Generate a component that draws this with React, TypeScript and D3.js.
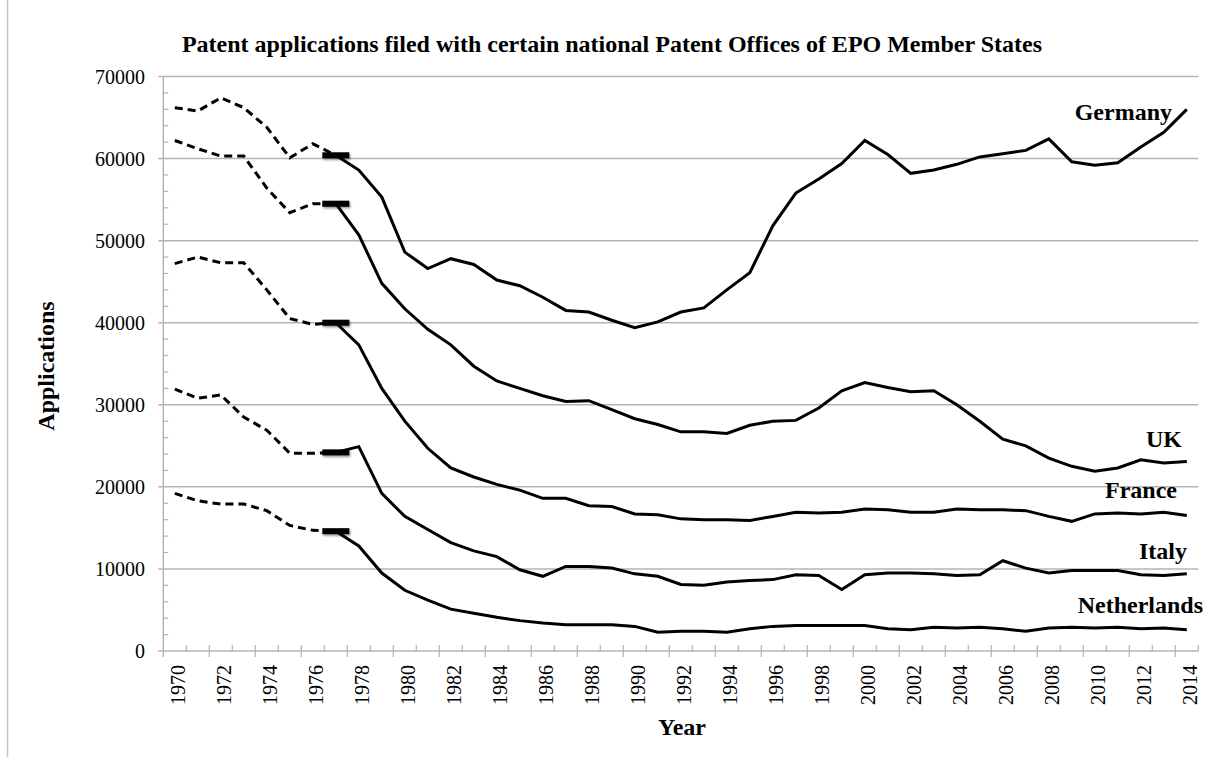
import React, { useRef, useEffect } from 'react';
import * as d3 from 'd3';

const years = d3.range(1970, 2015);

const germany = [66200, 65800, 67400, 66200, 63800, 60100, 61800, 60400, 58600, 55300, 48600, 46600,
  47800, 47100, 45200, 44500, 43100, 41500, 41300, 40300, 39400, 40100, 41300, 41800, 44000, 46100,
  51800, 55800, 57500, 59400, 62200, 60500, 58200, 58600, 59300, 60200, 60600, 61000, 62400, 59600,
  59200, 59500, 61400, 63200, 66000];

const uk = [62200, 61200, 60300, 60300, 56400, 53400, 54500, 54500, 50700, 44800, 41700, 39200,
  37300, 34700, 32900, 32000, 31100, 30400, 30500, 29400, 28300, 27600, 26700, 26700, 26500, 27500,
  28000, 28100, 29600, 31700, 32700, 32100, 31600, 31700, 30000, 28000, 25800, 25000, 23500, 22500,
  21900, 22300, 23300, 22900, 23100];

const france = [47200, 48000, 47300, 47300, 44000, 40500, 39800, 40000, 37300, 32000, 28000, 24700,
  22300, 21200, 20300, 19600, 18600, 18600, 17700, 17600, 16700, 16600, 16100, 16000, 16000, 15900,
  16400, 16900, 16800, 16900, 17300, 17200, 16900, 16900, 17300, 17200, 17200, 17100, 16400, 15800,
  16700, 16800, 16700, 16900, 16500];

const italy = [31900, 30800, 31200, 28500, 26900, 24100, 24100, 24200, 24900, 19200, 16400, 14800,
  13200, 12200, 11500, 9900, 9100, 10300, 10300, 10100, 9400, 9100, 8100, 8000, 8400, 8600,
  8700, 9300, 9200, 7500, 9300, 9500, 9500, 9400, 9200, 9300, 11000, 10100, 9500, 9800,
  9800, 9800, 9300, 9200, 9400];

const netherlands = [19200, 18300, 17900, 17900, 17100, 15300, 14700, 14600, 12800, 9500, 7400, 6200,
  5100, 4600, 4100, 3700, 3400, 3200, 3200, 3200, 3000, 2300, 2400, 2400, 2300, 2700,
  3000, 3100, 3100, 3100, 3100, 2700, 2600, 2900, 2800, 2900, 2700, 2400, 2800, 2900,
  2800, 2900, 2700, 2800, 2600];

const seriesNames = ['Germany', 'UK', 'France', 'Italy', 'Netherlands'];
const seriesValues = [germany, uk, france, italy, netherlands];

// years before this one are drawn dashed
const breakYear = 1977;

const yTicks = d3.range(0, 70001, 10000);
const yMinorTicks = d3.range(0, 70001, 2000);

// label placement (right end, baseline) in px
const labelPos = [
  [1172, 120],
  [1182, 447],
  [1177, 498],
  [1187, 559],
  [1203, 613],
];

const App = () => {
  const svgRef = useRef(null);

  useEffect(() => {
    document.body.style.margin = '0';

    const width = 1213;
    const height = 757;
    const left = 163.3;
    const right = 1198.3;
    const top = 76.5;
    const bottom = 651;
    const grey = '#b4b4b4';
    const font = '"Liberation Serif", "Times New Roman", serif';

    d3.select(svgRef.current).selectAll('*').remove();

    const svg = d3
      .select(svgRef.current)
      .attr('width', width)
      .attr('height', height);

    const defs = svg.append('defs');
    const filter = defs.append('filter').attr('id', 'shadow')
      .attr('x', '-30%').attr('y', '-80%').attr('width', '160%').attr('height', '260%');
    filter.append('feDropShadow')
      .attr('dx', 1).attr('dy', 1.5).attr('stdDeviation', 1.2)
      .attr('flood-color', '#000').attr('flood-opacity', 0.45);

    const xScale = d3.scaleBand()
      .domain(years.map(String))
      .range([left, right])
      .padding(0);

    const yScale = d3.scaleLinear()
      .domain([0, 70000])
      .range([bottom, top]);

    const bw = xScale.bandwidth();
    const cx = (yr: number) => (xScale(String(yr)) as number) + bw / 2;

    // left frame line
    svg.append('line')
      .attr('x1', 7.5).attr('x2', 7.5).attr('y1', 0).attr('y2', height)
      .attr('stroke', '#c4c4c4').attr('stroke-width', 1.5);

    // title
    svg.append('text')
      .attr('x', 612)
      .attr('y', 52)
      .attr('text-anchor', 'middle')
      .style('font-family', font)
      .style('font-weight', 'bold')
      .style('font-size', '24px')
      .text('Patent applications filed with certain national Patent Offices of EPO Member States');

    // grid lines
    svg.append('g').selectAll('line')
      .data(yTicks.filter(d => d > 0))
      .join('line')
      .attr('x1', left - 5).attr('x2', right)
      .attr('y1', d => yScale(d)).attr('y2', d => yScale(d))
      .attr('stroke', grey).attr('stroke-width', 1.5);

    // minor y ticks
    svg.append('g').selectAll('line')
      .data(yMinorTicks.filter(d => d % 10000 !== 0))
      .join('line')
      .attr('x1', left).attr('x2', left + 5)
      .attr('y1', d => yScale(d)).attr('y2', d => yScale(d))
      .attr('stroke', grey).attr('stroke-width', 1.2);

    // y axis line
    svg.append('line')
      .attr('x1', left).attr('x2', left).attr('y1', bottom + 6).attr('y2', top)
      .attr('stroke', grey).attr('stroke-width', 1.5);

    // x axis line
    svg.append('line')
      .attr('x1', left - 5).attr('x2', right).attr('y1', bottom).attr('y2', bottom)
      .attr('stroke', grey).attr('stroke-width', 1.5);

    // x ticks at band boundaries
    const boundaries = years.map((yr, i) => ({ x: xScale(String(yr)) as number, major: i % 2 === 0 }));
    boundaries.push({ x: right, major: false });
    svg.append('g').selectAll('line')
      .data(boundaries.slice(1))
      .join('line')
      .attr('x1', d => d.x).attr('x2', d => d.x)
      .attr('y1', bottom - 6).attr('y2', d => (d.major ? bottom + 6 : bottom))
      .attr('stroke', grey).attr('stroke-width', 1.2);

    // y tick labels
    svg.append('g').selectAll('text')
      .data(yTicks)
      .join('text')
      .attr('x', 145)
      .attr('y', d => yScale(d) + 7)
      .attr('text-anchor', 'end')
      .style('font-family', font)
      .style('font-size', '20px')
      .text(d => String(d));

    // x tick labels
    svg.append('g').selectAll('text')
      .data(years.filter(yr => yr % 2 === 0))
      .join('text')
      .attr('transform', yr => `translate(${cx(yr) + 10.5},665) rotate(-90)`)
      .attr('text-anchor', 'end')
      .style('font-family', font)
      .style('font-size', '20px')
      .text(yr => String(yr));

    // axis titles
    svg.append('text')
      .attr('transform', 'translate(54,366) rotate(-90)')
      .attr('text-anchor', 'middle')
      .style('font-family', font)
      .style('font-weight', 'bold')
      .style('font-size', '24px')
      .text('Applications');

    svg.append('text')
      .attr('x', 682)
      .attr('y', 735)
      .attr('text-anchor', 'middle')
      .style('font-family', font)
      .style('font-weight', 'bold')
      .style('font-size', '24px')
      .text('Year');

    const line = d3.line<[number, number]>()
      .x(d => cx(d[0]))
      .y(d => yScale(d[1]));

    const breakIdx = years.indexOf(breakYear);

    seriesValues.forEach((vals, s) => {
      const pts: [number, number][] = years.map((yr, i) => [yr, vals[i]]);

      svg.append('path')
        .datum(pts.slice(0, breakIdx + 1))
        .attr('fill', 'none')
        .attr('stroke', '#000')
        .attr('stroke-width', 3)
        .attr('stroke-dasharray', '8,5')
        .attr('d', line);

      svg.append('path')
        .datum(pts.slice(breakIdx))
        .attr('fill', 'none')
        .attr('stroke', '#000')
        .attr('stroke-width', 3)
        .attr('stroke-linejoin', 'miter')
        .attr('d', line);

      // break marker
      svg.append('rect')
        .attr('x', cx(breakYear) - 13.5)
        .attr('y', yScale(vals[breakIdx]) - 3)
        .attr('width', 27)
        .attr('height', 6)
        .attr('fill', '#000')
        .attr('filter', 'url(#shadow)');

      svg.append('text')
        .attr('x', labelPos[s][0])
        .attr('y', labelPos[s][1])
        .attr('text-anchor', 'end')
        .style('font-family', font)
        .style('font-weight', 'bold')
        .style('font-size', '24px')
        .text(seriesNames[s]);
    });
  }, []);

  return <svg ref={svgRef} style={{ display: 'block' }}></svg>;
};

export default App;
